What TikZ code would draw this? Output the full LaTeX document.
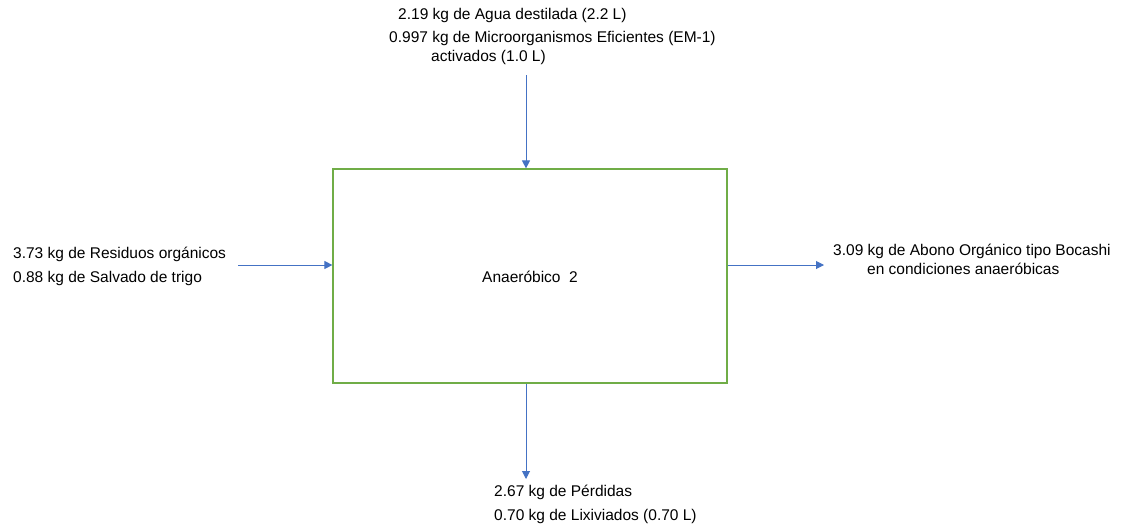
\documentclass[tikz,border=0pt]{standalone}
\usepackage{fontspec}
\setmainfont{Liberation Sans}
\usetikzlibrary{arrows.meta}
\definecolor{boxgreen}{HTML}{70AD47}
\definecolor{arrowblue}{HTML}{4472C4}
\begin{document}
\begin{tikzpicture}[x=1pt,y=-1pt,
  lbl/.style={anchor=west,inner sep=0pt,font=\fontsize{15.5}{18}\selectfont},
  flow/.style={draw=arrowblue,line width=1pt,-{Triangle[width=8pt,length=8pt]}},
  procbox/.style={draw=boxgreen,line width=1.2pt,minimum width=394pt,minimum height=214pt,inner sep=0pt}]
\useasboundingbox (0,0) rectangle (1132,527);
\node[procbox] (box) at (530,276) {};
\node[lbl] (ctext) at (482,277) {Anaeróbico\ \ 2};
% top
\node[lbl] (t1) at (398,15) {2.19 kg de Agua destilada (2.2 L)};
\node[lbl] (t2) at (389,38) {0.997 kg de Microorganismos Eficientes (EM-1)};
\node[lbl] (t3) at (431,57) {activados (1.0 L)};
% left
\node[lbl] (l1) at (13,254) {3.73 kg de Residuos orgánicos};
\node[lbl] (l2) at (13,278) {0.88 kg de Salvado de trigo};
% right
\node[lbl] (r1) at (833,251) {3.09 kg de Abono Orgánico tipo Bocashi};
\node[lbl] (r2) at (867,269) {en condiciones anaeróbicas};
% bottom
\node[lbl] (b1) at (494,492) {2.67 kg de Pérdidas};
\node[lbl] (b2) at (494,516) {0.70 kg de Lixiviados (0.70 L)};
% arrow ends
\coordinate (ts) at (526,75);
\coordinate (ls) at (238,265);
\coordinate (re) at (824,265);
\coordinate (be) at (526,479);
\draw[flow] (ts) -- (ts |- box.north);
\draw[flow] (ls) -- (ls -| box.west);
\draw[flow] (re -| box.east) -- (re);
\draw[flow] (be |- box.south) -- (be);
\end{tikzpicture}
\end{document}
